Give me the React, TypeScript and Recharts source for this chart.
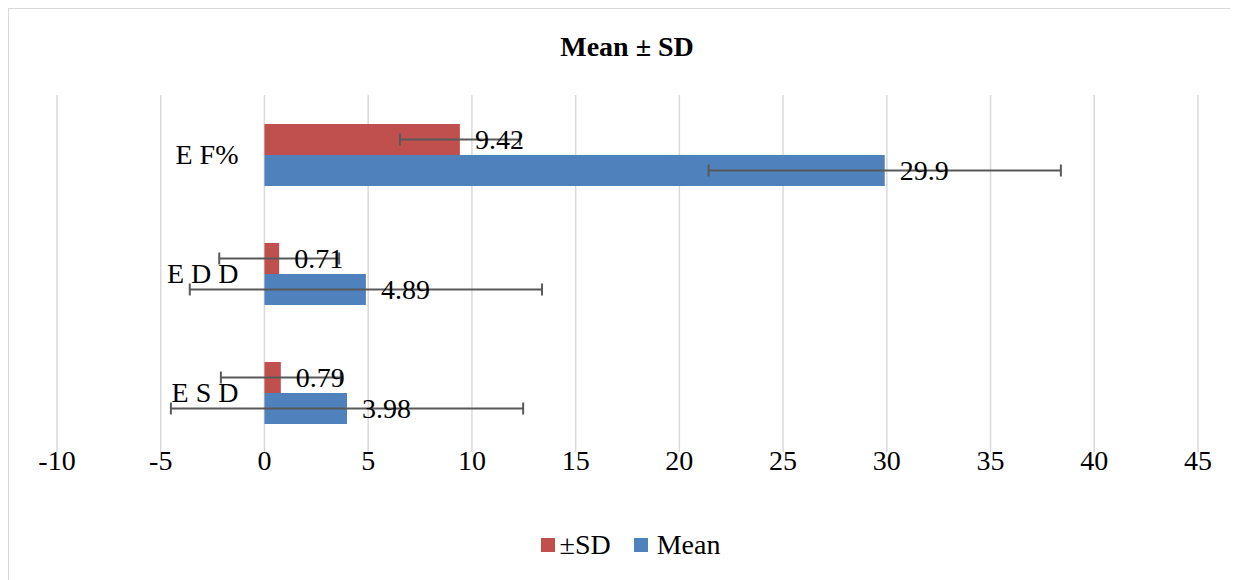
import React from 'react';
import { BarChart, Bar, XAxis, YAxis, CartesianGrid, Legend, ErrorBar, LabelList } from 'recharts';

const categories = ['E F%', 'E D D', 'E S D'];
const sdValues = [9.42, 0.71, 0.79];
const meanValues = [29.9, 4.89, 3.98];
const sdErrors = [2.89, 2.89, 2.89];
const meanErrors = [8.49, 8.49, 8.49];
const xTicks = [-10, -5, 0, 5, 10, 15, 20, 25, 30, 35, 40, 45];

const SD_COLOR = '#C0504D';
const MEAN_COLOR = '#4F81BD';
const FONT = "'Times New Roman', 'Liberation Serif', Tinos, serif";

const CHART_W = 1229;
const CHART_H = 571;
const MARGIN = { top: 86, right: 40, left: 47, bottom: 58 };
const Y_AXIS_W = 1;
const X_MIN = -10;
const X_MAX = 45;
const PLOT_LEFT = MARGIN.left + Y_AXIS_W;
const PLOT_W = CHART_W - PLOT_LEFT - MARGIN.right;
const ZERO_X = PLOT_LEFT + ((0 - X_MIN) / (X_MAX - X_MIN)) * PLOT_W;

const data = categories.map((name, i) => ({
  name,
  sd: sdValues[i],
  mean: meanValues[i],
  sdErr: sdErrors[i],
  meanErr: meanErrors[i],
}));

const CategoryTick = (props: any) => {
  const { y, payload } = props;
  return (
    <text
      x={ZERO_X - 26}
      y={y}
      textAnchor="end"
      dominantBaseline="central"
      style={{ fontFamily: FONT, fontSize: 28, fill: '#000' }}
    >
      {payload.value}
    </text>
  );
};

const LegendContent = () => (
  <div
    style={{
      display: 'flex',
      justifyContent: 'center',
      alignItems: 'center',
      height: 30,
      paddingLeft: 14,
      fontFamily: FONT,
      fontSize: 28,
      color: '#000',
    }}
  >
    <span style={{ display: 'inline-block', width: 14, height: 14, background: SD_COLOR, marginRight: 5 }} />
    <span style={{ marginRight: 23 }}>±SD</span>
    <span style={{ display: 'inline-block', width: 14, height: 14, background: MEAN_COLOR, marginRight: 9 }} />
    <span>Mean</span>
  </div>
);

export default function App() {
  return (
    <div
      style={{
        position: 'relative',
        width: CHART_W,
        height: CHART_H,
        borderTop: '1px solid #d9d9d9',
        borderLeft: '1px solid #d9d9d9',
        background: '#fff',
        fontFamily: FONT,
      }}
    >
      <div
        style={{
          position: 'absolute',
          top: 20,
          left: 0,
          width: CHART_W,
          paddingLeft: 7,
          boxSizing: 'border-box',
          textAlign: 'center',
          fontFamily: FONT,
          fontWeight: 'bold',
          fontSize: 28,
          lineHeight: '36px',
          color: '#000',
          zIndex: 2,
        }}
      >
        Mean ± SD
      </div>
      <BarChart
        width={CHART_W}
        height={CHART_H}
        data={data}
        layout="vertical"
        margin={MARGIN}
        barSize={31}
        barGap={0}
        style={{ fontFamily: FONT }}
      >
        <CartesianGrid horizontal={false} vertical={true} stroke="#d9d9d9" strokeWidth={1.5} />
        <XAxis
          type="number"
          domain={[X_MIN, X_MAX]}
          ticks={xTicks}
          interval={0}
          axisLine={false}
          tickLine={false}
          tickSize={0}
          tickMargin={-2}
          height={40}
          tick={{ fontFamily: FONT, fontSize: 28, fill: '#000', style: { fontFamily: FONT } }}
        />
        <YAxis
          type="category"
          dataKey="name"
          width={Y_AXIS_W}
          axisLine={false}
          tickLine={false}
          tick={<CategoryTick />}
          interval={0}
        />
        <Legend
          verticalAlign="bottom"
          content={<LegendContent />}
          wrapperStyle={{ position: 'absolute', top: 521, bottom: 'auto', left: 0, width: CHART_W, height: 30 }}
        />
        <Bar dataKey="sd" name="±SD" fill={SD_COLOR} isAnimationActive={false}>
          <LabelList dataKey="sd" position="right" offset={15} fill="#000" fontFamily={FONT} fontSize={28} style={{ fontFamily: FONT }} />
          <ErrorBar dataKey="sdErr" direction="x" width={6} stroke="#595959" strokeWidth={2} />
        </Bar>
        <Bar dataKey="mean" name="Mean" fill={MEAN_COLOR} isAnimationActive={false}>
          <LabelList dataKey="mean" position="right" offset={15} fill="#000" fontFamily={FONT} fontSize={28} style={{ fontFamily: FONT }} />
          <ErrorBar dataKey="meanErr" direction="x" width={6} stroke="#595959" strokeWidth={2} />
        </Bar>
      </BarChart>
    </div>
  );
}
